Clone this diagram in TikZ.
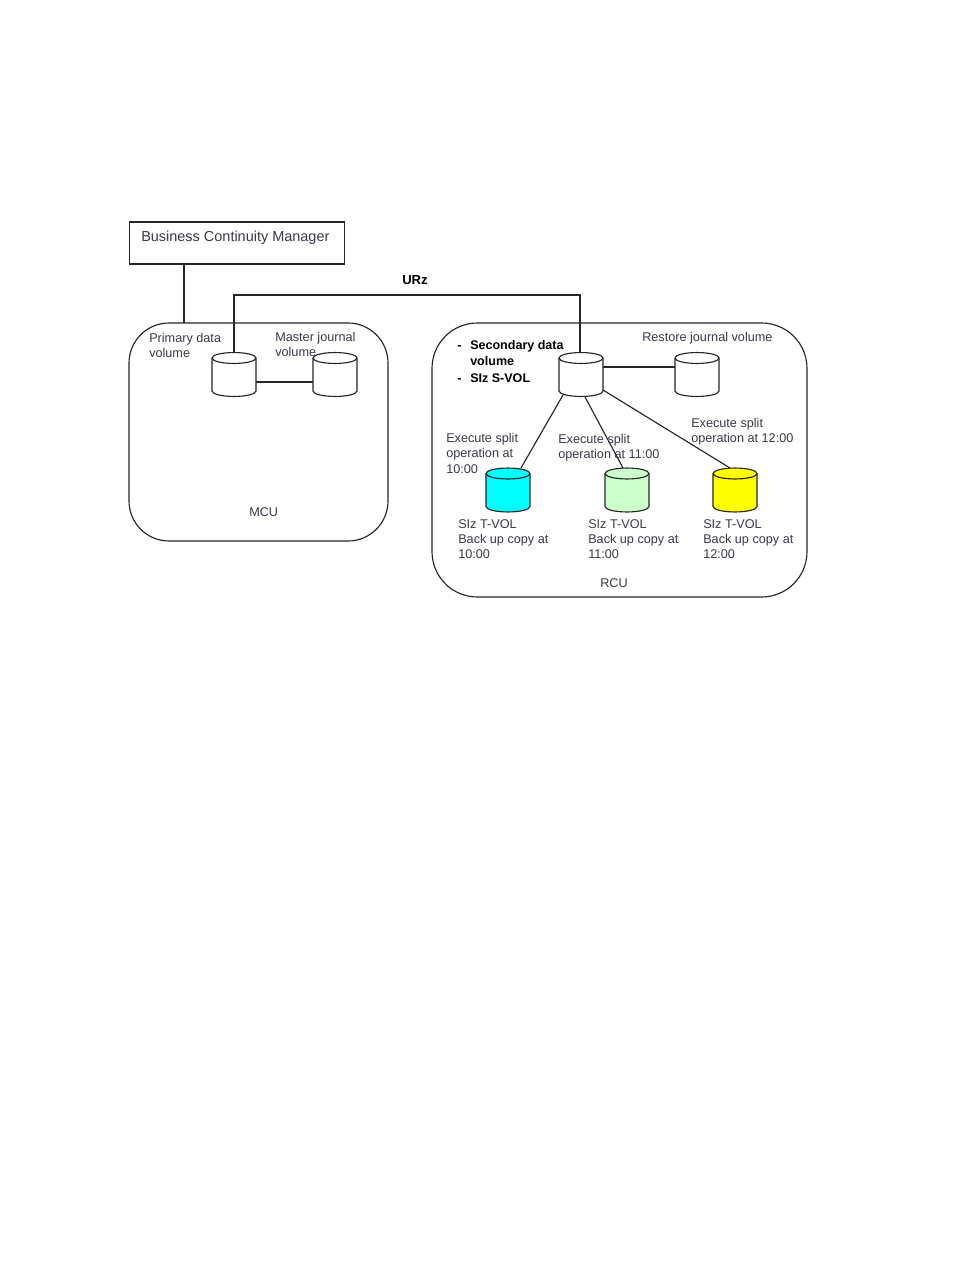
\documentclass[tikz,border=0pt]{standalone}
\usepackage{fontspec}
\setmainfont{Liberation Sans}
\usetikzlibrary{calc}
\definecolor{labelgray}{HTML}{3A3A4A}
\definecolor{tcyan}{HTML}{00FFFF}
\definecolor{tgreen}{HTML}{CCFFCC}
\definecolor{tyellow}{HTML}{FFFF00}
\tikzset{
  x=0.75pt,y=-0.75pt,
  wire/.style={draw=black!85,line width=0.85pt},
  unitbox/.style={wire,rounded corners=30pt},
  volbox/.style={rectangle,minimum width=33pt,minimum height=33pt,inner sep=0pt,outer sep=0pt},
  lbl/.style={anchor=north west,inner sep=0pt,align=left,text=labelgray,
    font=\fontsize{9.5pt}{11.5pt}\selectfont},
  strong/.style={lbl,text=black,font=\fontsize{9.4pt}{12.4pt}\selectfont\bfseries}
}
% A named volume: an empty box for connectors plus the cylinder outline drawn over it
\newcommand{\volume}[4]{%
  \node[volbox] (#1) at (#2,#3) {};
  \begin{scope}[shift={(#2,#3)}]
    \draw[wire,fill=#4] (-22,-16.5) -- (-22,16.5)
      arc[start angle=180,end angle=360,x radius=16.5pt,y radius=4.1pt]
      -- (22,-16.5)
      arc[start angle=0,end angle=180,x radius=16.5pt,y radius=4.1pt] -- cycle;
    \draw[wire] (-22,-16.5) arc[start angle=180,end angle=360,x radius=16.5pt,y radius=4.1pt];
  \end{scope}}
\begin{document}
\begin{tikzpicture}
\useasboundingbox (0,0) rectangle (954,1270);
\fill[white] (0,0) rectangle (954,1270);

% Controller enclosures
\draw[unitbox] (129,323) rectangle (388,541);
\draw[unitbox,rounded corners=34pt] (432,323) rectangle (807,597);
\node[lbl] (mcu) at (249,507) {MCU};
\node[lbl] (rcu) at (600,578) {RCU};

% Host box
\node[wire,rectangle,minimum width=161pt,minimum height=31.5pt,inner sep=0pt] (bcm) at (237,243) {};
\node[lbl,font=\fontsize{10.85pt}{12pt}\selectfont] (bcmtext) at (141,230.5) {Business Continuity Manager};

% Volumes
\volume{pvol}{234}{374.5}{white}
\volume{mjnl}{335}{374.5}{white}
\volume{svol}{581}{374.5}{white}
\volume{rjnl}{697}{374.5}{white}
\volume{tv10}{508}{490}{tcyan}
\volume{tv11}{627}{490}{tgreen}
\volume{tv12}{735}{490}{tyellow}

% Host link and remote copy link
\coordinate (hostdrop) at (184,323);
\draw[wire] (bcm.south -| hostdrop) -- (hostdrop);
\coordinate (urzrun) at (0,295);
\coordinate (svoltap) at ([xshift=-0.75pt]svol.north);
\draw[wire] (pvol.north) -- (pvol.north |- urzrun) -- (svoltap |- urzrun) -- (svoltap);

% Journal links
\draw[wire] ([shift={(0,7.5)}]pvol.east) -- ([shift={(0,7.5)}]mjnl.west);
\draw[wire] ([shift={(0,-7.5)}]svol.east) -- ([shift={(0,-7.5)}]rjnl.west);

% Split operation links
\draw[wire] ([shift={(-18,20.5)}]svol.center) -- ([shift={(13,0)}]tv10.north);
\draw[wire] ([shift={(4,22.5)}]svol.center) -- ([shift={(-4,0)}]tv11.north);
\draw[wire] ([shift={(22,15.5)}]svol.center) -- ([shift={(-5,0)}]tv12.north);

% Labels
\node[strong,font=\fontsize{9.8pt}{12pt}\selectfont\bfseries] (urz) at (402,275) {URz};
\node[lbl] (ptext) at (149,333) {Primary data\\volume};
\node[lbl] (mtext) at (275,332) {Master journal\\volume};
\node[lbl] (rtext) at (642,332) {Restore journal volume};
\node[strong] (dashone) at (457,340) {\vphantom{S}-};
\node[strong] (dashtwo) at (457,373) {\vphantom{S}-};
\node[strong] (stext) at (470,340) {Secondary data\\volume\\SIz S-VOL};
\node[lbl] (e10) at (446,433) {Execute split\\operation at\\10:00};
\node[lbl] (e11) at (558,434) {Execute split\\operation at 11:00};
\node[lbl] (e12) at (691,418) {Execute split\\operation at 12:00};
\node[lbl] (b10) at (458,519) {SIz T-VOL\\Back up copy at\\10:00};
\node[lbl] (b11) at (588,519) {SIz T-VOL\\Back up copy at\\11:00};
\node[lbl] (b12) at (703,519) {SIz T-VOL\\Back up copy at\\12:00};
\end{tikzpicture}
\end{document}
